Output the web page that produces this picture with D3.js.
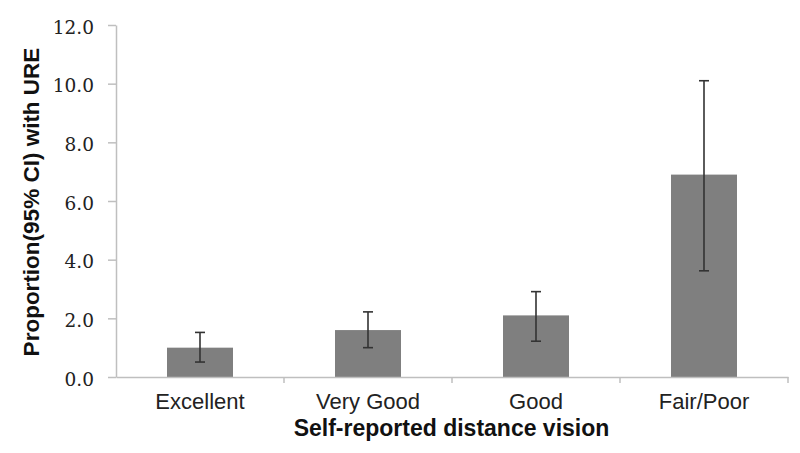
<!DOCTYPE html>
<html><head><meta charset="utf-8">
<script src="https://cdn.jsdelivr.net/npm/d3@7"></script>
<style>body{margin:0;background:#fff}</style>
</head><body>
<svg id="c" width="800" height="453"></svg>
<script>
const categories = ["Excellent", "Very Good", "Good", "Fair/Poor"];
const values = [1.0, 1.6, 2.1, 6.9];
const ciLow = [0.51, 1.0, 1.22, 3.62];
const ciHigh = [1.52, 2.22, 2.91, 10.1];
const yTicks = [0, 2, 4, 6, 8, 10, 12];

const svg = d3.select("#c");
const m = {l: 116, r: 12, t: 25, b: 76};
const W = 800, H = 453;
const y = d3.scaleLinear().domain([0, 12]).range([H - m.b, m.t]);
const xb = d3.scaleBand().domain(categories).range([m.l, W - m.r]);

// bars
svg.append("g").selectAll("rect").data(categories).join("rect")
  .attr("x", d => xb(d) + xb.bandwidth()/2 - 33)
  .attr("width", 66)
  .attr("y", (d,i) => y(values[i]))
  .attr("height", (d,i) => y(0) - y(values[i]))
  .attr("fill", "#7f7f7f");

// y axis
const ya = svg.append("g").attr("transform", `translate(${m.l},0)`)
  .call(d3.axisLeft(y).tickValues(yTicks).tickFormat(d3.format(".1f")).tickSize(8).tickSizeOuter(0));
ya.select(".domain").attr("stroke", "#bfbfbf").attr("stroke-width", 1.5);
ya.selectAll(".tick line").attr("stroke", "#bfbfbf").attr("stroke-width", 1.5);
ya.selectAll("text").attr("font-family", "DejaVu Serif, serif").attr("font-size", 18.5).attr("fill", "#222").attr("x", -22).attr("dy", "0.45em");

// x axis
const xa = svg.append("g").attr("transform", `translate(0,${y(0)})`)
  .call(d3.axisBottom(xb).tickSize(0).tickSizeOuter(0));
xa.select(".domain").attr("stroke", "#bfbfbf").attr("stroke-width", 1.5);
xa.selectAll(".tick text").attr("font-family", "Liberation Sans, Arial, sans-serif").attr("font-size", 22).attr("fill", "#222").attr("dy", 0).attr("y", 32);
// boundary ticks between categories
svg.append("g").selectAll("line").data(categories).join("line")
  .attr("x1", d => xb(d) + xb.bandwidth()).attr("x2", d => xb(d) + xb.bandwidth())
  .attr("y1", y(0)).attr("y2", y(0) + 6)
  .attr("stroke", "#bfbfbf").attr("stroke-width", 1.5);

// error bars
const eg = svg.append("g").attr("stroke", "#333").attr("stroke-width", 1.6);
categories.forEach((c, i) => {
  const cx = xb(c) + xb.bandwidth()/2;
  eg.append("line").attr("x1", cx).attr("x2", cx).attr("y1", y(ciLow[i])).attr("y2", y(ciHigh[i]));
  eg.append("line").attr("x1", cx-5).attr("x2", cx+5).attr("y1", y(ciLow[i])).attr("y2", y(ciLow[i]));
  eg.append("line").attr("x1", cx-5).attr("x2", cx+5).attr("y1", y(ciHigh[i])).attr("y2", y(ciHigh[i]));
});

// titles
svg.append("text").attr("transform", `translate(39,202) rotate(-90)`)
  .attr("text-anchor", "middle").attr("font-family", "Liberation Sans, Arial, sans-serif")
  .attr("font-weight", "bold").attr("font-size", 22.5).attr("fill", "#111")
  .text("Proportion(95% CI) with URE");
svg.append("text").attr("x", 451.5).attr("y", 436)
  .attr("text-anchor", "middle").attr("font-family", "Liberation Sans, Arial, sans-serif")
  .attr("font-weight", "bold").attr("font-size", 23).attr("fill", "#111")
  .text("Self-reported distance vision");
</script>
</body></html>
